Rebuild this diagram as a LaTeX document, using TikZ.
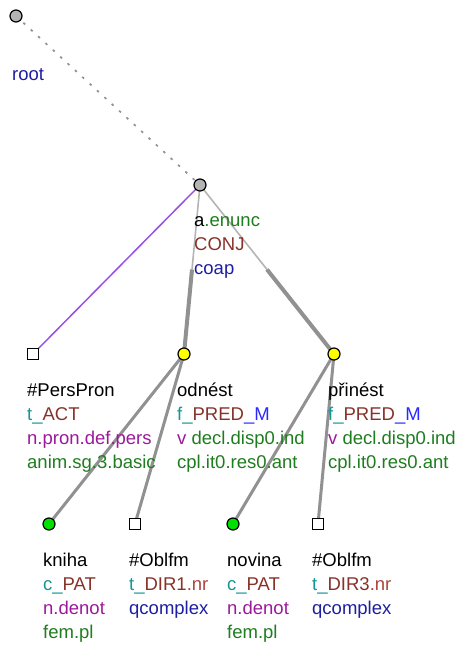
\documentclass[tikz,border=0pt]{standalone}
\usepackage{fontspec}
\setmainfont{Liberation Sans}
\usepackage{xcolor}
\usepackage{tikz}
\usetikzlibrary{positioning, calc, backgrounds}
\definecolor{nodegray}{RGB}{180,180,180}
\definecolor{verbyellow}{RGB}{255,255,0}
\definecolor{noungreen}{RGB}{0,225,0}
\definecolor{edgegray}{RGB}{145,145,145}
\definecolor{thingray}{RGB}{180,180,180}
\definecolor{memberviolet}{RGB}{150,80,230}
\definecolor{tealc}{RGB}{20,150,150}
\definecolor{brownc}{RGB}{135,50,40}
\definecolor{bluec}{RGB}{40,40,255}
\definecolor{navyc}{RGB}{30,30,160}
\definecolor{purplec}{RGB}{155,25,155}
\definecolor{greenc}{RGB}{30,125,30}
\definecolor{nrc}{RGB}{170,70,60}

\begin{document}
\begin{tikzpicture}[
  x=1pt, y=-1pt,
  hub/.style={
    circle,
    draw=black,
    line width=1.2pt,
    fill=nodegray,
    minimum size=12pt,
    inner sep=0pt
  },
  verb/.style={hub, fill=verbyellow},
  noun/.style={hub, fill=noungreen},
  gen/.style={rectangle, draw=black, line width=1.2pt, fill=white, minimum size=11pt, inner sep=0pt},
  lbl/.style={anchor=north west, inner sep=0pt, align=left, font=\fontsize{18.5}{24}\selectfont},
  rootlink/.style={line width=1.7pt, edgegray, dash pattern=on 2.5pt off 7.5pt},
  memberlink/.style={line width=1.5pt, memberviolet},
  coordthin/.style={line width=1.6pt, thingray},
  coordthick/.style={line width=4pt, edgegray},
  dep/.style={line width=3pt, edgegray}
]
\useasboundingbox (0,0) rectangle (462,648);
% tree nodes
\node[hub] (root) at (16,16) {};
\node[hub] (coap) at (200,185) {};
\node[gen] (perspron) at (33,354) {};
\node[verb] (odnest) at (184,354) {};
\node[verb] (prinest) at (334,354) {};
\node[noun] (kniha) at (49,524) {};
\node[gen] (oblfmA) at (135,524) {};
\node[noun] (novina) at (233,524) {};
\node[gen] (oblfmB) at (318,524) {};
% edges
\begin{scope}[on background layer]
\coordinate (odnestMid) at ($(coap)!0.5!(odnest)$);
\coordinate (prinestMid) at ($(coap)!0.5!(prinest)$);
\draw[rootlink] (root.center) -- (coap.center);
\draw[memberlink] (coap.center) -- (perspron.center);
\draw[coordthin] (coap.center) -- (odnestMid);
\draw[coordthick] (odnestMid) -- (odnest.center);
\draw[coordthin] (coap.center) -- (prinestMid);
\draw[coordthick] (prinestMid) -- (prinest.center);
\draw[dep] (odnest.center) -- (kniha.center);
\draw[dep] (odnest.center) -- (oblfmA.center);
\draw[dep] (prinest.center) -- (novina.center);
\draw[dep] (prinest.center) -- (oblfmB.center);
\end{scope}
% labels
\node[lbl] (lRoot) at ($(root)+(-4,47)$) {\strut\textcolor{navyc}{root}};
\node[lbl] (lCoap) at ($(coap)+(-6,24.2)$)
  {\strut a\textcolor{greenc}{.enunc}\\\textcolor{brownc}{CONJ}\\\textcolor{navyc}{coap}};
\node[lbl] (lPersPron) at ($(perspron)+(-6,25.2)$)
  {\strut\#PersPron\\\textcolor{tealc}{t\_}\textcolor{brownc}{ACT}\\
   \textcolor{purplec}{n.pron.def.pers}\\\textcolor{greenc}{anim.sg.3.basic}};
\node[lbl] (lOdnest) at ($(odnest)+(-7,25.2)$)
  {\strut odnést\\\textcolor{tealc}{f\_}\textcolor{brownc}{PRED}\textcolor{bluec}{\_M}\\
   \textcolor{purplec}{v} \textcolor{greenc}{decl.disp0.ind}\\\textcolor{greenc}{cpl.it0.res0.ant}};
\node[lbl] (lPrinest) at ($(prinest)+(-6,25.2)$)
  {\strut přinést\\\textcolor{tealc}{f\_}\textcolor{brownc}{PRED}\textcolor{bluec}{\_M}\\
   \textcolor{purplec}{v} \textcolor{greenc}{decl.disp0.ind}\\\textcolor{greenc}{cpl.it0.res0.ant}};
\node[lbl] (lKniha) at ($(kniha)+(-6,25.2)$)
  {\strut kniha\\\textcolor{tealc}{c\_}\textcolor{brownc}{PAT}\\
   \textcolor{purplec}{n.denot}\\\textcolor{greenc}{fem.pl}};
\node[lbl] (lOblfmA) at ($(oblfmA)+(-6,25.2)$)
  {\strut\#Oblfm\\\textcolor{tealc}{t\_}\textcolor{brownc}{DIR1}\textcolor{nrc}{.nr}\\
   \textcolor{navyc}{qcomplex}};
\node[lbl] (lNovina) at ($(novina)+(-6,25.2)$)
  {\strut novina\\\textcolor{tealc}{c\_}\textcolor{brownc}{PAT}\\
   \textcolor{purplec}{n.denot}\\\textcolor{greenc}{fem.pl}};
\node[lbl] (lOblfmB) at ($(oblfmB)+(-6,25.2)$)
  {\strut\#Oblfm\\\textcolor{tealc}{t\_}\textcolor{brownc}{DIR3}\textcolor{nrc}{.nr}\\
   \textcolor{navyc}{qcomplex}};
\end{tikzpicture}
\end{document}
